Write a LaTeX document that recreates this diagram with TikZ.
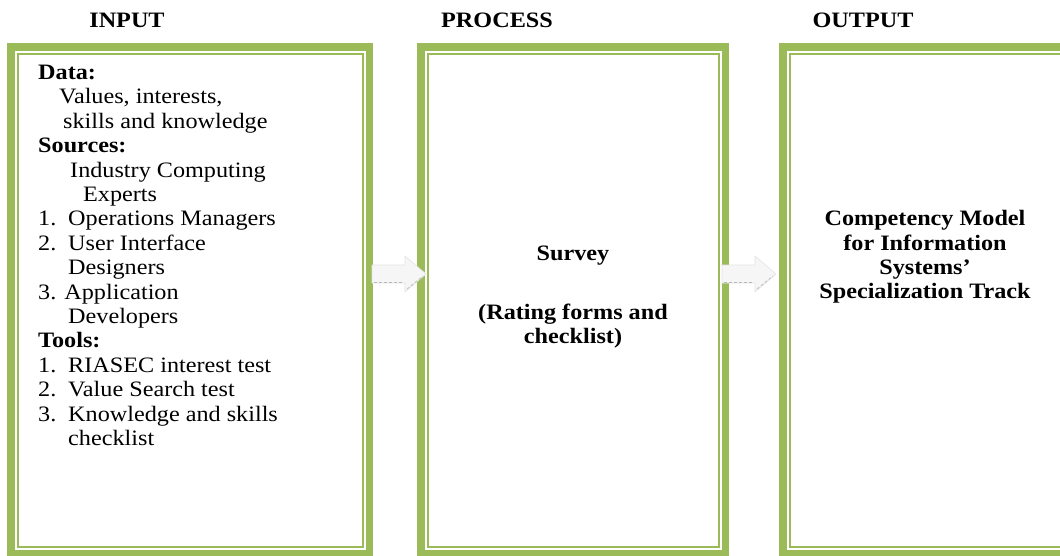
\documentclass[tikz,border=0pt]{standalone}
\usepackage{fontspec}
\setmainfont[FakeStretch=1.1]{Liberation Serif}
\usetikzlibrary{positioning}

\definecolor{boxgreen}{RGB}{155,187,89}
\newcommand{\bodysize}{\fontsize{22}{24.4}\selectfont}
\newcommand{\itemno}[1]{\makebox[30pt][l]{#1}}

\tikzset{
  frame/.style={draw=boxgreen, line width=7.5pt, inner sep=0pt},
  innerframe/.style={draw=boxgreen, line width=2pt},
  heading/.style={font=\bodysize\bfseries, anchor=base},
  blockarrow/.style={fill=gray!7, draw=gray!22, line width=0.6pt},
  flowarrow/.pic={
    \draw[blockarrow] (0,-9) -- (33,-9) -- (33,-18) -- (54,0) -- (33,18) -- (33,9) -- (0,9) -- cycle;
    \draw[gray!55, densely dashed, line width=1pt] (2,8) -- (31,8);
    \draw[gray!45, densely dashed, line width=1pt] (35,15) -- (51,2);
  }
}

\begin{document}
\begin{tikzpicture}[x=1pt, y=-1pt, font=\bodysize]
\useasboundingbox (0,0) rectangle (1060,556);
\clip (0,0) rectangle (1060,556);

% boxes
\node[frame, minimum width=358.5pt, minimum height=506.7pt] (input) at (190,300.4) {};
\node[frame, minimum width=304.5pt, minimum height=506.7pt] (process) at (573,300.4) {};
\node[frame, minimum width=284.5pt, minimum height=506.7pt] (output) at (925,300.4) {};
\foreach \b in {input, process, output}
  \draw[innerframe] ([xshift=10.5pt, yshift=-10.5pt]\b.north west) rectangle ([xshift=-10.5pt, yshift=10.5pt]\b.south east);

% headings
\node[heading] (inputhead) at (127,28) {INPUT};
\node[heading] (processhead) at (497,28) {PROCESS};
\node[heading] (outputhead) at (863,28) {OUTPUT};

% box texts
\node[align=left, anchor=base west, inner sep=0pt] (inputtext) at (38,445.5)
  {\textbf{Data:}\\
   \hspace*{21pt}Values, interests,\\
   \hspace*{25pt}skills and knowledge\\
   \textbf{Sources:}\\
   \hspace*{32pt}Industry Computing\\
   \hspace*{45pt}Experts\\
   \itemno{1.}Operations Managers\\
   \itemno{2.}User Interface\\
   \hspace*{30pt}Designers\\
   3. Application\\
   \hspace*{30pt}Developers\\
   \textbf{Tools:}\\
   \itemno{1.}RIASEC interest test\\
   \itemno{2.}Value Search test\\
   \itemno{3.}Knowledge and skills\\
   \hspace*{30pt}checklist};
\node[align=center, font=\bodysize\bfseries] (survey) at (573,297)
  {Survey\\[10pt] \\ (Rating forms and\\ checklist)};
\node[align=center, font=\bodysize\bfseries] (model) at (925,257)
  {Competency Model\\ for Information\\ Systems'\\ Specialization Track};

% arrows
\coordinate (arrowrow) at (0,274);
\pic at ([xshift=-1pt]input.east |- arrowrow) {flowarrow};
\pic at ([xshift=-7pt]process.east |- arrowrow) {flowarrow};
\end{tikzpicture}
\end{document}
